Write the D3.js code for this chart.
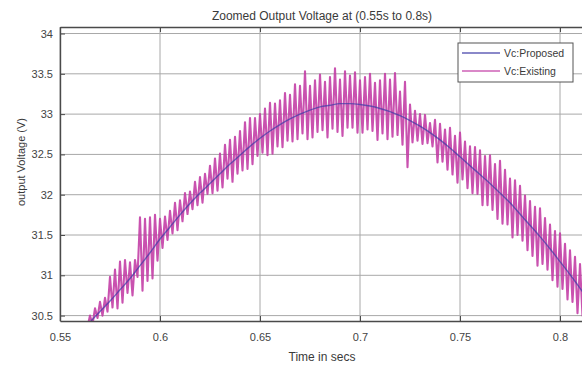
<!DOCTYPE html>
<html>
<head>
<meta charset="utf-8">
<script src="https://cdn.jsdelivr.net/npm/d3@7"></script>
<style>
  body { margin: 0; background: #fff; }
  text { font-family: "Liberation Sans", Arial, sans-serif; fill: #3a3a3a; }
</style>
</head>
<body>
<div id="svgCanvas"></div>
<script>
// ---- data ----
var xTicks = [0.55, 0.6, 0.65, 0.7, 0.75, 0.8];
var xTickLabels = ["0.55", "0.6", "0.65", "0.7", "0.75", "0.8"];
var yTicks = [30.5, 31, 31.5, 32, 32.5, 33, 33.5, 34];
var yTickLabels = ["30.5", "31", "31.5", "32", "32.5", "33", "33.5", "34"];
var seriesNames = ["Vc:Proposed", "Vc:Existing"];

// proposed (smooth) output voltage
var proposedTime = [0.555, 0.56, 0.565, 0.57, 0.575, 0.58, 0.585, 0.59, 0.595, 0.6,
    0.605, 0.61, 0.615, 0.62, 0.625, 0.63, 0.635, 0.64, 0.645, 0.65,
    0.655, 0.66, 0.665, 0.67, 0.675, 0.68, 0.685, 0.69, 0.695, 0.7,
    0.705, 0.71, 0.715, 0.72, 0.725, 0.73, 0.735, 0.74, 0.745, 0.75,
    0.755, 0.76, 0.765, 0.77, 0.775, 0.78, 0.785, 0.79, 0.795, 0.8,
    0.805, 0.81, 0.815];
var proposedVolt = [30.18, 30.30, 30.42, 30.55, 30.68, 30.82, 30.96, 31.12, 31.28, 31.45,
    31.60, 31.75, 31.89, 32.02, 32.14, 32.26, 32.38, 32.49, 32.60, 32.70,
    32.79, 32.87, 32.94, 33.00, 33.05, 33.09, 33.11, 33.13, 33.13, 33.12,
    33.10, 33.07, 33.03, 32.98, 32.92, 32.85, 32.77, 32.68, 32.58, 32.47,
    32.36, 32.25, 32.14, 32.02, 31.90, 31.76, 31.62, 31.48, 31.33, 31.17,
    31.01, 30.84, 30.66];

// existing (rippled) output voltage, sampled every 1.25 ms from 0.56 s
var existingStart = 0.56,
    existingStep = 0.00125;
var existingVolt = [
    30.35, 30.29, 30.42, 30.36,  30.50, 30.39, 30.59, 30.47,  30.67, 30.50, 30.72, 30.55,
    30.98, 30.60, 31.07, 30.59,  31.17, 30.66, 31.19, 30.78,  31.16, 30.75, 31.19, 30.98,
    31.72, 30.81, 31.70, 30.93,  31.72, 30.96, 31.75, 31.18,  31.70, 31.34, 31.73, 31.44,
    31.80, 31.52, 31.90, 31.56,  31.93, 31.67, 32.02, 31.76,  32.04, 31.82, 32.16, 31.87,
    32.22, 31.90, 32.26, 32.01,  32.36, 32.02, 32.45, 32.05,  32.51, 32.09, 32.62, 32.20,
    32.68, 32.16, 32.72, 32.26,  32.79, 32.30, 32.90, 32.32,  32.95, 32.38, 32.95, 32.48,
    33.00, 32.52, 33.07, 32.49,  33.14, 32.51, 33.13, 32.60,  33.17, 32.59, 33.26, 32.67,
    33.24, 32.66, 33.37, 32.69,  33.35, 32.76, 33.53, 32.69,  33.35, 32.71, 33.42, 32.78,
    33.49, 32.80, 33.40, 32.71,  33.46, 32.82, 33.57, 32.78,  33.43, 32.73, 33.53, 32.83,
    33.48, 32.83, 33.52, 32.77,  33.42, 32.77, 33.46, 32.81,  33.50, 32.79, 33.39, 32.68,
    33.42, 32.76, 33.50, 32.69,  33.43, 32.72, 33.51, 32.74,  33.28, 32.62, 33.40, 32.34,
    33.12, 32.65, 33.04, 32.67,  33.00, 32.63, 32.99, 32.64,  32.89, 32.60, 32.93, 32.40,
    32.88, 32.41, 32.81, 32.31,  32.83, 32.25, 32.73, 32.15,  32.77, 32.19, 32.66, 32.08,
    32.60, 32.02, 32.59, 32.01,  32.55, 31.87, 32.48, 31.87,  32.49, 31.81, 32.38, 31.70,
    32.42, 31.64, 32.31, 31.63,  32.20, 31.47, 32.18, 31.50,  32.11, 31.43, 31.99, 31.31,
    31.92, 31.24, 31.85, 31.12,  31.83, 31.14, 31.71, 31.07,  31.63, 30.94, 31.55, 30.86,
    31.52, 30.83, 31.39, 30.70,  31.31, 30.67, 31.23, 30.53,  31.14, 30.50, 31.00, 30.41
];

var width = 582,
    height = 372;

var pad = {left: 60, top: 27, right: 584, bottom: 321};

var colours = {
    proposed: "#3c3aa6",
    existing: "#c23aa4",
    grid: "#a8a8a8",
    axis: "#4a4a4a"
};

var svg = d3.select("#svgCanvas")
    .append("svg")
    .attr("width", width)
    .attr("height", height);

var xScale = d3.scaleLinear()
    .domain([0.55, 0.812])
    .range([pad.left, pad.right]);

var yScale = d3.scaleLinear()
    .domain([30.433, 34.081])
    .range([pad.bottom, pad.top]);

svg.append("defs").append("clipPath")
    .attr("id", "plotClip")
    .append("rect")
    .attr("x", pad.left)
    .attr("y", pad.top)
    .attr("width", pad.right - pad.left)
    .attr("height", pad.bottom - pad.top);

// grid
var grid = svg.append("g").attr("class", "grid");

grid.selectAll(".vgrid")
    .data(xTicks)
    .enter().append("line")
    .attr("x1", d => xScale(d))
    .attr("x2", d => xScale(d))
    .attr("y1", pad.top)
    .attr("y2", pad.bottom)
    .style("stroke", colours.grid)
    .style("stroke-width", 1);

grid.selectAll(".hgrid")
    .data(yTicks)
    .enter().append("line")
    .attr("x1", pad.left)
    .attr("x2", pad.right)
    .attr("y1", d => yScale(d))
    .attr("y2", d => yScale(d))
    .style("stroke", colours.grid)
    .style("stroke-width", 1);

// series
var existingData = existingVolt.map(function(v, i) {
    return {t: existingStart + i * existingStep, v: v};
});
var proposedData = proposedTime.map(function(t, i) {
    return {t: t, v: proposedVolt[i]};
});

var plot = svg.append("g").attr("clip-path", "url(#plotClip)");

plot.append("path")
    .datum(existingData)
    .attr("d", d3.line().x(d => xScale(d.t)).y(d => yScale(d.v)))
    .style("fill", "none")
    .style("stroke", colours.existing)
    .style("stroke-width", 2.1)
    .style("stroke-linejoin", "round")
    .style("opacity", 0.88);

plot.append("path")
    .datum(proposedData)
    .attr("d", d3.line().curve(d3.curveMonotoneX).x(d => xScale(d.t)).y(d => yScale(d.v)))
    .style("fill", "none")
    .style("stroke", colours.proposed)
    .style("stroke-width", 1.4)
    .style("opacity", 0.7);

// axes box
var xAxis = d3.axisBottom(xScale)
    .tickValues(xTicks)
    .tickFormat((d, i) => xTickLabels[i])
    .tickSizeInner(-5)
    .tickSizeOuter(0)
    .tickPadding(12);

var yAxis = d3.axisLeft(yScale)
    .tickValues(yTicks)
    .tickFormat((d, i) => yTickLabels[i])
    .tickSizeInner(-5)
    .tickSizeOuter(0)
    .tickPadding(7);

var gX = svg.append("g")
    .attr("transform", "translate(0," + pad.bottom + ")")
    .call(xAxis);

var gY = svg.append("g")
    .attr("transform", "translate(" + pad.left + ",0)")
    .call(yAxis);

var gXTop = svg.append("g")
    .attr("transform", "translate(0," + pad.top + ")")
    .call(d3.axisTop(xScale).tickValues(xTicks).tickFormat("").tickSizeInner(-5).tickSizeOuter(0));

[gX, gY, gXTop].forEach(function(g) {
    g.select(".domain").style("stroke", colours.axis).style("stroke-width", 1.4);
    g.selectAll(".tick line").style("stroke", colours.axis);
    g.selectAll(".tick text")
        .style("font-family", "'Liberation Sans', Arial, sans-serif")
        .style("font-size", "11px")
        .style("fill", "#444");
});

// titles
svg.append("text")
    .attr("x", 322)
    .attr("y", 20)
    .style("text-anchor", "middle")
    .style("font-size", "12px")
    .text("Zoomed Output Voltage at (0.55s to 0.8s)");

svg.append("text")
    .attr("x", 322)
    .attr("y", 361)
    .style("text-anchor", "middle")
    .style("font-size", "12px")
    .text("Time in secs");

svg.append("text")
    .attr("transform", "translate(25,162) rotate(-90)")
    .style("text-anchor", "middle")
    .style("font-size", "11px")
    .text("output Voltage (V)");

// legend
var legend = svg.append("g").attr("transform", "translate(458,43)");

legend.append("rect")
    .attr("width", 115)
    .attr("height", 39)
    .style("fill", "#fff")
    .style("stroke", "#555")
    .style("stroke-width", 1);

var legendColours = [colours.proposed, colours.existing];

legend.selectAll(".item")
    .data(seriesNames)
    .enter().append("g")
    .attr("transform", (d, i) => "translate(0," + (10 + i * 18) + ")")
    .each(function(d, i) {
        var g = d3.select(this);
        g.append("line")
            .attr("x1", 4).attr("x2", 42)
            .attr("y1", 0).attr("y2", 0)
            .style("stroke", legendColours[i])
            .style("stroke-width", 1.6)
            .style("opacity", 0.8);
        g.append("text")
            .attr("x", 46)
            .attr("y", 4)
            .style("font-size", "10.5px")
            .text(d);
    });
</script>
</body>
</html>
